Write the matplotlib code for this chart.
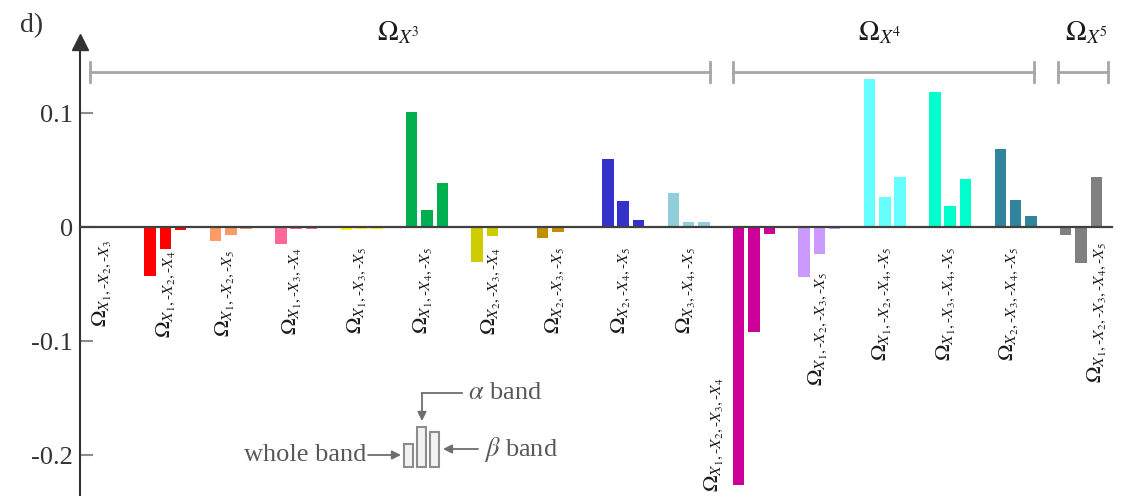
import matplotlib.pyplot as plt
from matplotlib.patches import Rectangle
import numpy as np

plt.rcParams['font.family'] = ['Liberation Serif', 'DejaVu Serif']
plt.rcParams['mathtext.fontset'] = 'stix'

# data: one group per interaction term, three bands each
subsets = [[1, 2, 3], [1, 2, 4], [1, 2, 5], [1, 3, 4], [1, 3, 5], [1, 4, 5],
           [2, 3, 4], [2, 3, 5], [2, 4, 5], [3, 4, 5],
           [1, 2, 3, 4], [1, 2, 3, 5], [1, 2, 4, 5], [1, 3, 4, 5], [2, 3, 4, 5],
           [1, 2, 3, 4, 5]]
whole = [0.0, -0.043, -0.012, -0.015, -0.003, 0.101, -0.031, -0.010, 0.060, 0.030,
         -0.226, -0.044, 0.130, 0.118, 0.068, -0.007]
alpha = [0.0, -0.019, -0.007, -0.002, -0.002, 0.015, -0.008, -0.004, 0.023, 0.004,
         -0.092, -0.024, 0.026, 0.018, 0.024, -0.032]
beta = [0.0, -0.003, -0.002, -0.002, -0.002, 0.039, 0.0, 0.0, 0.006, 0.004,
        -0.006, -0.002, 0.044, 0.042, 0.010, 0.044]
colors = ['#404040', '#FF0000', '#FF9966', '#FF6699', '#FFFF00', '#00B050',
          '#CCCC00', '#C09000', '#3333CC', '#92CDDC', '#CC0099', '#CC99FF',
          '#66FFFF', '#00FFCC', '#31849B', '#808080']
orders = [3, 4, 5]
tick_vals = [-0.2, -0.1, 0, 0.1]
tick_text = ['-0.2', '-0.1', '0', '0.1']

# pixel -> data helpers (layout only)
PX0, PXS, PY0, PYS = 100.0, 65.4, 227.0, 1140.0
def dx(px):
    return (px - PX0) / PXS
def dy(py):
    return (PY0 - py) / PYS

fig = plt.figure(figsize=(11.23, 4.96), dpi=100)
ax = fig.add_axes([0, 0, 1, 1])
ax.set_xlim(dx(0), dx(1123))
ax.set_ylim(dy(496), dy(0))
for s in ['top', 'right', 'bottom']:
    ax.spines[s].set_visible(False)
ax.spines['left'].set_position(('data', dx(80)))
ax.spines['left'].set_bounds(dy(496), dy(40))
ax.spines['left'].set_color('#333333')
ax.spines['left'].set_linewidth(1.5)
ax.plot(dx(80), dy(42), marker='^', ms=11, color='#333333', clip_on=False)

ax.set_xticks([])
ax.set_yticks(tick_vals)
ax.set_yticklabels(tick_text)
ax.tick_params(axis='y', direction='in', length=9, width=1.5, color='#8c8c8c',
               labelsize=19, labelcolor='#333333', pad=5)

x = np.arange(len(subsets))
off, w = 0.234, 0.176
ax.bar(x - off, whole, w, color=colors, zorder=2)
ax.bar(x, alpha, w, color=colors, zorder=2)
ax.bar(x + off, beta, w, color=colors, zorder=2)
ax.plot([dx(80), dx(1112)], [0, 0], color='#404040', lw=1.6, zorder=3)

# rotated term labels
label_dx = [0.03, 0, -0.09, -0.06, -0.08, -0.06, -0.02, -0.04, -0.03, -0.04,
            -0.61, -0.02, -0.05, -0.07, -0.1, 0.245]
label_top = [240, 250, 250, 247, 247, 247, 247, 247, 247, 247,
             377, 272, 247, 247, 247, 242]
for i, s in enumerate(subsets):
    txt = r'$\Omega_{' + r',\text{-}'.join('X_{%d}' % k for k in s) + '}$'
    ax.text(i + label_dx[i], dy(label_top[i]), txt, rotation=90, ha='center',
            va='top', fontsize=16, color='#1a1a1a')

# order brackets
bracket_px = [(90, 710), (733, 1034), (1058, 1108)]
title_px = [398, 880, 1087]
yb, h = dy(72), 10 / PYS
for k, (a, b) in enumerate(bracket_px):
    ax.plot([dx(a), dx(b)], [yb, yb], color='#a6a6a6', lw=2, clip_on=False)
    for e in (a, b):
        ax.plot([dx(e), dx(e)], [yb - h, yb + h], color='#a6a6a6', lw=2)
    ax.text(dx(title_px[k]), dy(40), r'$\Omega_{X^{%d}}$' % orders[k],
            ha='center', va='baseline', fontsize=20, color='#1a1a1a')

# legend sketch
for (l, r, t) in [(404, 413, 444), (417, 426, 427), (430, 439, 432)]:
    ax.add_patch(Rectangle((dx(l), dy(467)), dx(r) - dx(l), dy(t) - dy(467),
                           facecolor='#f2f2f2', edgecolor='#8c8c8c', lw=1.5))
gc = '#6e6e6e'
ap = dict(arrowstyle='-|>', color=gc, lw=1.3, mutation_scale=13,
          shrinkA=0, shrinkB=0)
ax.annotate('', xy=(dx(401), dy(455)), xytext=(dx(368), dy(455)), arrowprops=ap)
ax.plot([dx(462), dx(422)], [dy(393), dy(393)], color=gc, lw=1.3)
ax.annotate('', xy=(dx(422), dy(421)), xytext=(dx(422), dy(393)), arrowprops=ap)
ax.annotate('', xy=(dx(443), dy(449)), xytext=(dx(478), dy(449)), arrowprops=ap)
ax.text(dx(366), dy(455), 'whole band', ha='right', va='center', fontsize=19, color='#595959')
ax.text(dx(468), dy(393), r'$\alpha$ band', ha='left', va='center', fontsize=19, color='#595959')
ax.text(dx(484), dy(450), r'$\beta$ band', ha='left', va='center', fontsize=19, color='#595959')

fig.text(20 / 1123, 1 - 32 / 496, 'd)', ha='left', va='baseline', fontsize=20, color='#333333')

fig.savefig('out.png', dpi=100)
